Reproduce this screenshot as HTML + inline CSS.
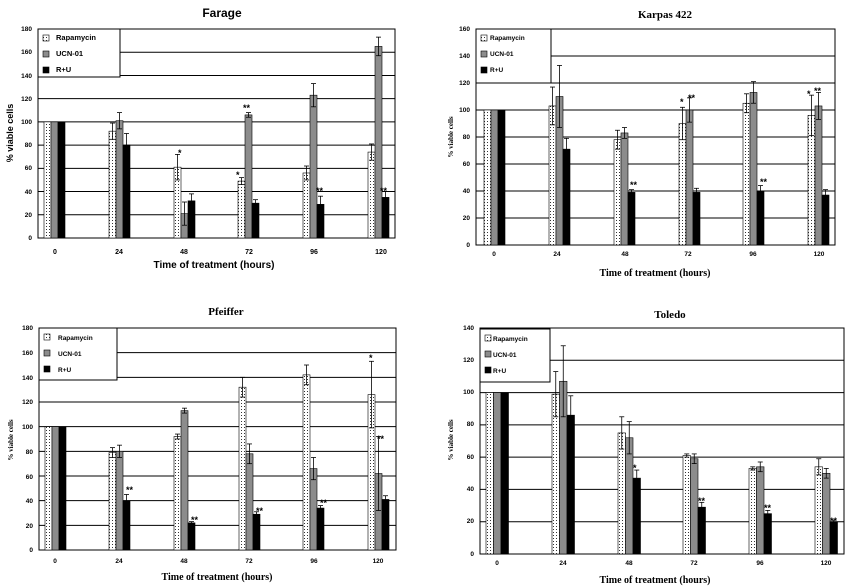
<!DOCTYPE html>
<html><head><meta charset="utf-8"><style>
html,body{margin:0;padding:0;background:#fff;}
svg{display:block;}
text{font-family:"Liberation Sans",sans-serif;font-weight:bold;fill:#000;}
.s{font-family:"Liberation Serif",serif;}
</style></head><body>
<svg id="c" width="845" height="586" viewBox="0 0 845 586" xmlns="http://www.w3.org/2000/svg">
<defs>
<pattern id="dots" width="3" height="3" patternUnits="userSpaceOnUse">
<rect width="3" height="3" fill="#fff"/><rect x="1" y="1" width="1" height="1" fill="#333"/>
</pattern>
</defs>
<rect width="845" height="586" fill="#fff"/>
<g id="shapes"></g>
<!-- Farage -->
<text x="222" y="17" font-size="12" text-anchor="middle" font-weight="normal">Farage</text>
<g font-size="6.5" text-anchor="end">
<text x="32" y="31">180</text><text x="32" y="54">160</text><text x="32" y="78">140</text><text x="32" y="101">120</text><text x="32" y="124">100</text><text x="32" y="147">80</text><text x="32" y="170">60</text><text x="32" y="194">40</text><text x="32" y="217">20</text><text x="32" y="240">0</text>
</g>
<g font-size="7" text-anchor="middle">
<text x="55" y="254">0</text><text x="119" y="254">24</text><text x="184" y="254">48</text><text x="249" y="254">72</text><text x="314" y="254">96</text><text x="381" y="254">120</text>
</g>
<text x="214" y="268" font-size="10" text-anchor="middle">Time of treatment (hours)</text>
<text transform="translate(13,133) rotate(-90)" font-size="9" text-anchor="middle">% viable cells</text>
<g font-size="7.5"><text x="56" y="40">Rapamycin</text><text x="56" y="56">UCN-01</text><text x="56" y="72">R+U</text></g>
<g font-size="9" font-weight="normal"><text x="178" y="156">*</text><text x="236" y="178">*</text><text x="243" y="111">**</text><text x="316" y="194">**</text><text x="380" y="194">**</text></g>
<!-- Karpas -->
<text class="s" x="665" y="18" font-size="11" text-anchor="middle">Karpas 422</text>
<g class="s" font-size="6.5" text-anchor="end">
<text x="470" y="31">160</text><text x="470" y="58">140</text><text x="470" y="85">120</text><text x="470" y="112">100</text><text x="470" y="139">80</text><text x="470" y="166">60</text><text x="470" y="193">40</text><text x="470" y="220">20</text><text x="470" y="247">0</text>
</g>
<g class="s" font-size="6.5" text-anchor="middle">
<text x="494" y="256">0</text><text x="557" y="256">24</text><text x="625" y="256">48</text><text x="688" y="256">72</text><text x="753" y="256">96</text><text x="819" y="256">120</text>
</g>
<text class="s" x="655" y="276" font-size="10" text-anchor="middle">Time of treatment (hours)</text>
<text class="s" transform="translate(453,137) rotate(-90)" font-size="7" text-anchor="middle">% viable cells</text>
<g class="s" font-size="6.5"><text x="490" y="40">Rapamycin</text><text x="490" y="56">UCN-01</text><text x="490" y="72">R+U</text></g>
<g class="s" font-size="9"><text x="680" y="105">*</text><text x="688" y="101">**</text><text x="630" y="188">**</text><text x="760" y="185">**</text><text x="807" y="97">*</text><text x="814" y="94">**</text></g>
<!-- Pfeiffer -->
<text class="s" x="226" y="315" font-size="11" text-anchor="middle">Pfeiffer</text>
<g class="s" font-size="6.5" text-anchor="end">
<text x="33" y="330">180</text><text x="33" y="355">160</text><text x="33" y="380">140</text><text x="33" y="404">120</text><text x="33" y="429">100</text><text x="33" y="454">80</text><text x="33" y="479">60</text><text x="33" y="503">40</text><text x="33" y="528">20</text><text x="33" y="552">0</text>
</g>
<g class="s" font-size="6.5" text-anchor="middle">
<text x="55" y="563">0</text><text x="119" y="563">24</text><text x="184" y="563">48</text><text x="249" y="563">72</text><text x="314" y="563">96</text><text x="378" y="563">120</text>
</g>
<text class="s" x="217" y="580" font-size="10" text-anchor="middle">Time of treatment (hours)</text>
<text class="s" transform="translate(13,440) rotate(-90)" font-size="7" text-anchor="middle">% viable cells</text>
<g class="s" font-size="6.5"><text x="58" y="340">Rapamycin</text><text x="58" y="356">UCN-01</text><text x="58" y="372">R+U</text></g>
<g class="s" font-size="9"><text x="126" y="493">**</text><text x="191" y="523">**</text><text x="256" y="514">**</text><text x="320" y="506">**</text><text x="369" y="361">*</text><text x="377" y="442">**</text></g>
<!-- Toledo -->
<text class="s" x="670" y="318" font-size="11" text-anchor="middle">Toledo</text>
<g class="s" font-size="6.5" text-anchor="end">
<text x="474" y="330">140</text><text x="474" y="362">120</text><text x="474" y="394">100</text><text x="474" y="426">80</text><text x="474" y="459">60</text><text x="474" y="491">40</text><text x="474" y="523">20</text><text x="474" y="556">0</text>
</g>
<g class="s" font-size="6.5" text-anchor="middle">
<text x="497" y="565">0</text><text x="563" y="565">24</text><text x="629" y="565">48</text><text x="694" y="565">72</text><text x="760" y="565">96</text><text x="826" y="565">120</text>
</g>
<text class="s" x="655" y="583" font-size="10" text-anchor="middle">Time of treatment (hours)</text>
<text class="s" transform="translate(453,440) rotate(-90)" font-size="7" text-anchor="middle">% viable cells</text>
<g class="s" font-size="6.5"><text x="493" y="341">Rapamycin</text><text x="493" y="357">UCN-01</text><text x="493" y="373">R+U</text></g>
<g class="s" font-size="9"><text x="633" y="471">*</text><text x="698" y="504">**</text><text x="764" y="511">**</text><text x="830" y="524">**</text></g>
</svg>
<script>
var NS="http://www.w3.org/2000/svg",G=document.getElementById("shapes");
function el(n,a){var e=document.createElementNS(NS,n);for(var k in a)e.setAttribute(k,a[k]);G.appendChild(e);return e;}
function panel(p){
 var sc=(p.y0-p.yt)/p.max;
 for(var v=p.step;v<=p.max;v+=p.step){var y=p.y0-v*sc;el("line",{x1:p.x0,x2:p.x1,y1:y,y2:y,stroke:"#000","stroke-width":1});}
 el("rect",{x:p.x0,y:p.yt,width:p.x1-p.x0,height:p.y0-p.yt,fill:"none",stroke:"#000","stroke-width":1});
 var fills=["url(#dots)","#8c8c8c","#000"];
 for(var s=0;s<3;s++)for(var i=0;i<6;i++){
  var x=p.xs[i]+s*p.w,v=p.d[s][i],e=p.e[s][i],y=p.y0-v*sc;
  el("rect",{x:x,y:y,width:p.w,height:v*sc,fill:fills[s],stroke:"#000","stroke-width":0.6});
  if(e>0){var cx=x+p.w/2,y1=p.y0-(v+e)*sc,y2=p.y0-(v-e)*sc;
   el("line",{x1:cx,x2:cx,y1:y1,y2:y2,stroke:"#000","stroke-width":0.8});
   el("line",{x1:cx-2.5,x2:cx+2.5,y1:y1,y2:y1,stroke:"#000","stroke-width":0.8});
   el("line",{x1:cx-2.5,x2:cx+2.5,y1:y2,y2:y2,stroke:"#000","stroke-width":0.8});}
 }
 var L=p.leg;el("rect",{x:L[0],y:L[1],width:L[2],height:L[3],fill:"#fff",stroke:"#000","stroke-width":1});
 for(var s=0;s<3;s++)el("rect",{x:L[0]+5,y:L[1]+6+s*16,width:6,height:6,fill:fills[s],stroke:"#000","stroke-width":0.6});
}
panel({x0:38,x1:395,yt:29,y0:238,max:180,step:20,w:7,xs:[44,109,174,238,303,368],
 d:[[100,92,61,49,56,74],[100,101,21,106,123,165],[100,80,32,30,29,35]],
 e:[[0,7,11,3,6,7],[0,7,10,2,10,8],[0,10,6,3,7,5]],leg:[38,29,82,48]});
panel({x0:476,x1:835,yt:29,y0:245,max:160,step:20,w:7,xs:[484,549,614,679,743,808],
 d:[[100,103,78,90,105,96],[100,110,83,100,113,103],[100,71,39,39,40,37]],
 e:[[0,14,7,12,7,15],[0,23,4,9,8,10],[0,8,2,3,4,4]],leg:[476,29,75,54]});
panel({x0:39,x1:396,yt:328,y0:550,max:180,step:20,w:7,xs:[45,109,174,239,303,368],
 d:[[100,79,92,132,142,126],[100,80,113,78,66,62],[100,40,22,29,34,41]],
 e:[[0,4,2,8,8,27],[0,5,2,8,9,30],[0,5,1,2,2,3]],leg:[39,328,78,52]});
panel({x0:480,x1:844,yt:328,y0:554,max:140,step:20,w:7.5,xs:[486,552,618,683,749,815],
 d:[[100,99,75,61,53,54],[100,107,72,59,54,50],[100,86,47,29,25,20]],
 e:[[0,14,10,1,1,5],[0,22,10,3,3,3],[0,12,5,3,2,1]],leg:[480,329,70,53]});
</script>
</body></html>
